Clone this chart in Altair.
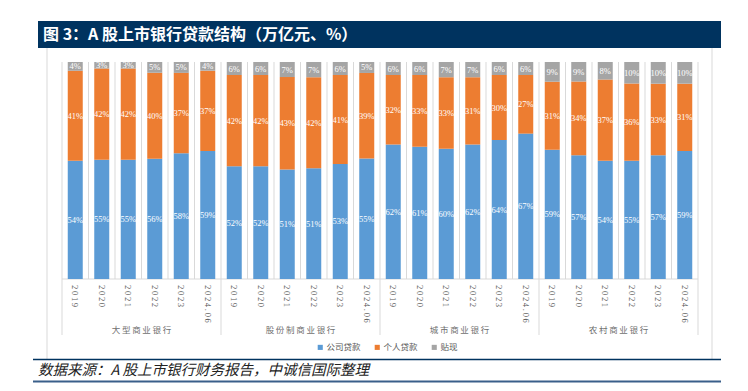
import altair as alt
import pandas as pd

# ---- data ----
groups = ["大型商业银行", "股份制商业银行", "城市商业银行", "农村商业银行"]
years = ["2019", "2020", "2021", "2022", "2023", "2024.06"]
series = ["公司贷款", "个人贷款", "贴现"]
corporate = [54, 55, 55, 56, 58, 59,
             52, 52, 51, 51, 53, 55,
             62, 61, 60, 62, 64, 67,
             59, 57, 54, 55, 57, 59]
personal = [41, 42, 42, 40, 37, 37,
            42, 42, 43, 42, 41, 39,
            32, 33, 33, 31, 30, 27,
            31, 34, 37, 36, 33, 31]
discount = [4, 3, 3, 5, 5, 4,
            6, 6, 7, 7, 6, 5,
            6, 6, 7, 7, 6, 6,
            9, 9, 8, 10, 10, 10]
colors = ["#5B9BD5", "#ED7D31", "#A5A5A5"]
title_text = "图 3：A 股上市银行贷款结构（万亿元、%）"
source_text = "数据来源：A 股上市银行财务报告，中诚信国际整理"

# ---- tables built from the lists ----
rows = []
slots = []
for gi, g in enumerate(groups):
    for yi, yr in enumerate(years):
        i = gi * len(years) + yi
        slots.append(dict(pos=i + 0.5, ylab="\u2009".join(yr)))
        for si, (s, vals) in enumerate(zip(series, [corporate, personal, discount])):
            rows.append(dict(slot=i, pos=i + 0.5, series=s, order=si, value=vals[i]))
df = pd.DataFrame(rows)
df_slots = pd.DataFrame(slots)
n = len(groups) * len(years)
df_grid = pd.DataFrame({"gx": list(range(n + 1)), "ya": 0.0, "yb": 1.0})
df_sep = pd.DataFrame({"gx": [gi * len(years) for gi in range(len(groups) + 1)]})
df_groups = pd.DataFrame({"gx": [gi * len(years) + len(years) / 2 for gi in range(len(groups))],
                          "name": ["\u2009".join(g) for g in groups]})
df_base = pd.DataFrame({"xa": [0], "xb": [n], "ya": [0.0]})
one = pd.DataFrame({"a": [0]})

W, H = 646, 217
xs = alt.Scale(domain=[0, n], nice=False, zero=False)
ys = alt.Scale(domain=[0, 1], nice=False)
grid_c = "#D9D9D9"
navy = "#00335F"

grid = alt.Chart(df_grid).mark_rule(color=grid_c, strokeWidth=1).encode(
    x=alt.X("gx:Q", scale=xs, axis=None),
    y=alt.Y("ya:Q", scale=ys, axis=None), y2="yb:Q")

sep = alt.Chart(df_sep).mark_rule(color=grid_c, strokeWidth=1).encode(
    x=alt.X("gx:Q", scale=xs, axis=None),
    y=alt.value(H), y2=alt.value(273))

baseline = alt.Chart(df_base).mark_rule(color=grid_c, strokeWidth=1).encode(
    x=alt.X("xa:Q", scale=xs, axis=None), x2="xb:Q",
    y=alt.Y("ya:Q", scale=ys, axis=None))

base = alt.Chart(df).transform_stack(
    stack="value", groupby=["slot"], sort=[alt.SortField("order", "ascending")],
    as_=["v0", "v1"], offset="normalize"
).transform_calculate(mid="(datum.v0 + datum.v1) / 2", lab="datum.value + '%'")

bars = base.mark_bar(size=15).encode(
    x=alt.X("pos:Q", scale=xs, axis=None),
    y=alt.Y("v0:Q", scale=ys, axis=None), y2="v1:Q",
    color=alt.Color("series:N", scale=alt.Scale(domain=series, range=colors),
                    sort=series,
                    legend=alt.Legend(orient="none", legendX=259, legendY=281,
                                      direction="horizontal", title=None,
                                      symbolType="square", symbolSize=26,
                                      symbolStrokeWidth=0,
                                      labelFontSize=8.5, labelFont="Noto Sans CJK SC",
                                      labelColor="#595959", columnPadding=12,
                                      labelOffset=2, padding=0)))

labels = base.mark_text(color="white", fontSize=8.5, font="Liberation Serif",
                        baseline="middle").encode(
    x=alt.X("pos:Q", scale=xs, axis=None),
    y=alt.Y("mid:Q", scale=ys, axis=None),
    text="lab:N")

year_labels = alt.Chart(df_slots).mark_text(angle=90, align="left", baseline="middle",
                                            fontSize=8.5, font="Liberation Serif",
                                            color="#595959").encode(
    x=alt.X("pos:Q", scale=xs, axis=None),
    y=alt.value(H + 6), text="ylab:N")

group_labels = alt.Chart(df_groups).mark_text(align="center", baseline="middle",
                                              fontSize=8.5, font="Noto Sans CJK SC",
                                              color="#6F6F6F").encode(
    x=alt.X("gx:Q", scale=xs, axis=None),
    y=alt.value(268), text="name:N")

title_bar = alt.Chart(one).mark_rect(color=navy).encode(
    x=alt.value(-19), x2=alt.value(664), y=alt.value(-41), y2=alt.value(-14))
title = alt.Chart(one).mark_text(align="left", baseline="middle", fontSize=16,
                                 fontWeight="bold", font="Noto Sans CJK SC",
                                 color="white").encode(
    x=alt.value(-14), y=alt.value(-27.5), text=alt.value(title_text))

frame_l = alt.Chart(one).mark_rule(color=grid_c).encode(
    x=alt.value(-10), y=alt.value(-14), y2=alt.value(297))
frame_r = alt.Chart(one).mark_rule(color=grid_c).encode(
    x=alt.value(655), y=alt.value(-14), y2=alt.value(297))
foot_line = alt.Chart(one).mark_rule(color=navy, strokeWidth=1.5).encode(
    x=alt.value(-24), x2=alt.value(664), y=alt.value(297.5))
foot_line2 = alt.Chart(one).mark_rule(color="#3A5F8A", strokeWidth=2).encode(
    x=alt.value(-24), x2=alt.value(664), y=alt.value(319.5))
footer = alt.Chart(one).mark_text(align="left", baseline="middle", fontSize=14.5,
                                  fontStyle="italic", font="Noto Sans CJK SC",
                                  color="#222222").encode(
    x=alt.value(-19), y=alt.value(309), text=alt.value(source_text))

chart = alt.layer(
    grid, sep, baseline, bars, labels, year_labels, group_labels,
    frame_l, frame_r, foot_line, foot_line2, footer, title_bar, title
).properties(
    width=W, height=H,
    padding={"left": 49, "top": 54, "right": 37, "bottom": 104},
    autosize=alt.AutoSizeParams(type="none"),
    background="white"
).configure_view(stroke=None)

chart.save("out.html", embed_options={"renderer": "svg", "actions": False})
